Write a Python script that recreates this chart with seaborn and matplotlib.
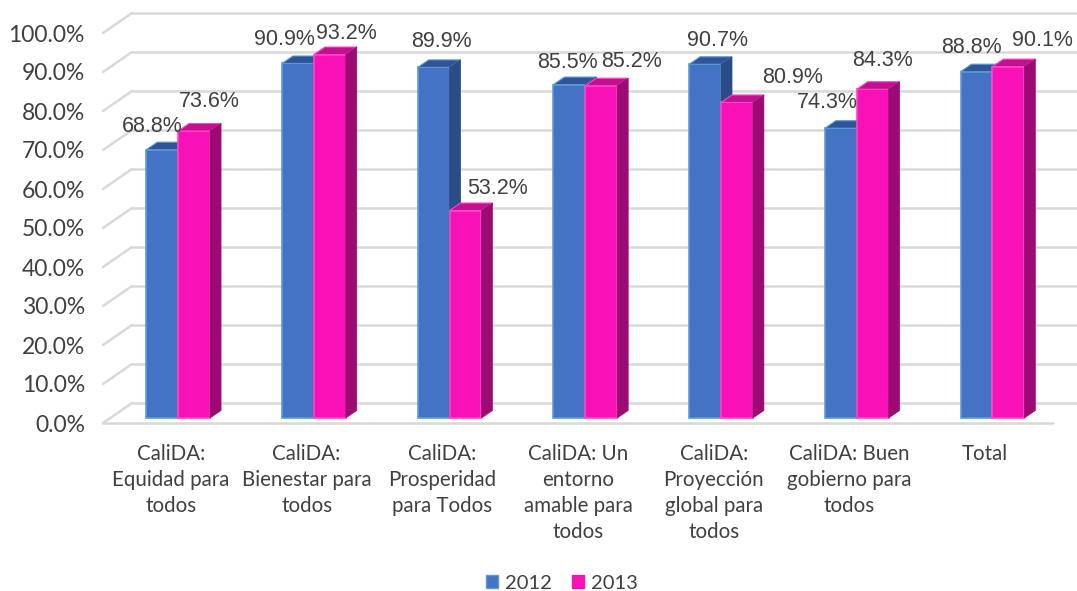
import matplotlib
matplotlib.use("Agg")
import matplotlib.pyplot as plt
from matplotlib.patches import Polygon, Patch
import seaborn as sns
import pandas as pd

sns.set_theme(style="white")
plt.rcParams['font.family'] = ['Lato', 'DejaVu Sans']

# datos
categorias = ["CaliDA:\nEquidad para\ntodos", "CaliDA:\nBienestar para\ntodos",
              "CaliDA:\nProsperidad\npara Todos", "CaliDA: Un\nentorno\namable para\ntodos",
              "CaliDA:\nProyección\nglobal para\ntodos", "CaliDA: Buen\ngobierno para\ntodos",
              "Total"]
anios = ["2012", "2013"]
v2012 = [68.8, 90.9, 89.9, 85.5, 90.7, 74.3, 88.8]
v2013 = [73.6, 93.2, 53.2, 85.2, 80.9, 84.3, 90.1]
yticks = [0, 10, 20, 30, 40, 50, 60, 70, 80, 90, 100]

# ajuste manual de etiquetas (pixeles), como en la grafica original
nudge_x = {"2012": [-10, -13, 7.5, -2, 12.5, -13, -5.5],
           "2013": [15, 16.5, 32, 30, 56, 9.5, 34]}
nudge_y = {"2012": [23, 23.5, 26, 22.5, 24, 26, 23.7],
           "2013": [29, 21.5, 22.5, 24, 24.5, 29, 26.6]}

# colores: frente, tapa, lado, borde
AZUL = ["#4472C4", "#2F5597", "#2B4C86", "#5B9BD5"]
ROSA = ["#F811B7", "#C2118F", "#9C0A73", "#FF45C8"]
GRIS = "#D9D9D9"
TEXTO = "#404040"

df = pd.DataFrame({
    "categoria": categorias * 2,
    "valor": v2012 + v2013,
    "anio": [anios[0]] * len(v2012) + [anios[1]] * len(v2013),
})

fig = plt.figure(figsize=(10.77, 5.91), dpi=100)
ax = fig.add_axes([103 / 1077, (591 - 423) / 591, 950 / 1077, 390 / 591])

sns.barplot(data=df, x="categoria", y="valor", hue="anio", order=categorias,
            hue_order=anios, palette=[AZUL[0], ROSA[0]], width=0.47,
            saturation=1, legend=False, ax=ax)

ax.set_xlim(-0.5, 6.5)
ax.set_ylim(0, 100)

# conversion pixeles -> datos
ppx = ax.transData.transform((1, 0))[0] - ax.transData.transform((0, 0))[0]
ppy = ax.transData.transform((0, 1))[1] - ax.transData.transform((0, 0))[1]
depth_x, depth_y = 29 / ppx, 20 / ppy      # profundidad del piso
sx, sy = 7.3 / ppx, 5 / ppy                # barras a media profundidad
fx, fy = 11 / ppx, 7.5 / ppy               # grosor 3D de cada barra

# rejilla 3D
x0, x1 = ax.get_xlim()
for t in yticks:
    ax.plot([x0 + depth_x, x1 + depth_x], [t + depth_y, t + depth_y], color=GRIS,
            lw=1.8, clip_on=False, zorder=0.5)
    ax.plot([x0, x0 + depth_x], [t, t + depth_y], color=GRIS, lw=1.8,
            clip_on=False, zorder=0.5)
ax.plot([x0, x1], [0, 0], color=GRIS, lw=1.8, clip_on=False, zorder=0.6)

n = len(categorias)
bars = list(ax.patches)
for k, anio in enumerate(anios):
    cols = AZUL if k == 0 else ROSA
    vals = v2012 if k == 0 else v2013
    grupo = sorted(bars[k * n:(k + 1) * n], key=lambda p: p.get_x())
    z = 3 + k
    for i, p in enumerate(grupo):
        bx = p.get_x() + sx
        w = p.get_width()
        h = p.get_height()
        p.set_x(bx)
        p.set_y(sy)
        p.set_edgecolor(cols[3])
        p.set_linewidth(1.2)
        p.set_zorder(z)
        p.set_clip_on(False)
        top = sy + h
        tapa = Polygon([(bx, top), (bx + w, top), (bx + w + fx, top + fy), (bx + fx, top + fy)],
                       closed=True, facecolor=cols[1], edgecolor=cols[3], lw=0.8,
                       zorder=z + 0.1, clip_on=False)
        lado = Polygon([(bx + w, sy), (bx + w + fx, sy + fy), (bx + w + fx, top + fy), (bx + w, top)],
                       closed=True, facecolor=cols[2], edgecolor=cols[2], lw=0.5,
                       zorder=z + 0.2, clip_on=False)
        ax.add_patch(tapa)
        ax.add_patch(lado)
        ax.annotate(f"{vals[i]:.1f}%", xy=(bx + w / 2, top),
                    xytext=(nudge_x[anio][i], nudge_y[anio][i]), textcoords="offset pixels",
                    ha="center", va="center", fontsize=15.5, color=TEXTO,
                    family=["Liberation Sans", "DejaVu Sans"], zorder=8)

ax.set_yticks(yticks)
ax.set_yticklabels([f"{t:.1f}%" for t in yticks])
ax.set_xticks(range(n))
ax.set_xticklabels(categorias)
ax.tick_params(axis="y", length=0, pad=13, labelsize=16.5, labelcolor=TEXTO)
ax.tick_params(axis="x", length=0, pad=15, labelsize=14.8, labelcolor=TEXTO)
for lab in ax.get_xticklabels():
    lab.set_linespacing(1.38)
ax.set_xlabel("")
ax.set_ylabel("")
ax.grid(False)
for s in ax.spines.values():
    s.set_visible(False)

handles = [Patch(facecolor=AZUL[0], edgecolor=AZUL[3], label=anios[0]),
           Patch(facecolor=ROSA[0], edgecolor=ROSA[0], label=anios[1])]
fig.legend(handles=handles, loc="center", bbox_to_anchor=(0.522, 0.013), ncol=2,
           frameon=False, fontsize=14.5, handlelength=0.6, handleheight=0.6,
           handletextpad=0.35, columnspacing=1.0, labelcolor=TEXTO)

fig.savefig("out.png", dpi=100)
